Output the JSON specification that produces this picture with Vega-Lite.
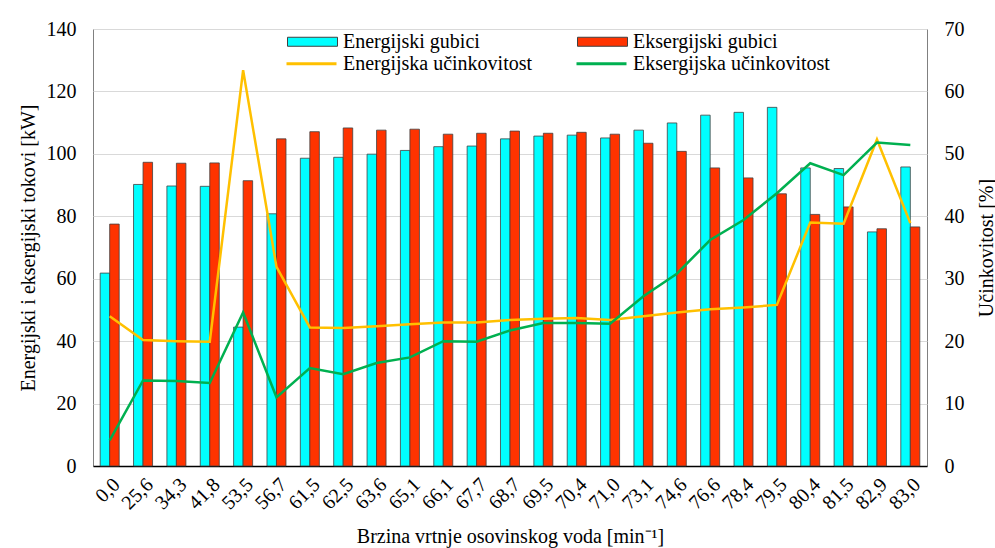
{
  "$schema": "https://vega.github.io/schema/vega-lite/v6.json",
  "width": 834,
  "height": 437,
  "autosize": {"type": "none"},
  "padding": {"left": 93, "top": 29, "right": 68, "bottom": 82},
  "background": "white",
  "config": {
    "font": "Liberation Serif, Times New Roman, serif",
    "view": {"stroke": "#808080", "strokeWidth": 1},
    "axis": {"labelFont": "Liberation Serif, Times New Roman, serif", "titleFont": "Liberation Serif, Times New Roman, serif", "labelFontSize": 20, "titleFontSize": 20, "titleFontWeight": "normal", "labelColor": "#000", "titleColor": "#000"},
    "legend": {"labelFont": "Liberation Serif, Times New Roman, serif", "labelFontSize": 20, "labelColor": "#000", "labelLimit": 400}
  },
  "datasets": {
    "gubici": [
      {"brzina": "0,0", "serija": "Energijski gubici", "kW": 61.8},
      {"brzina": "0,0", "serija": "Eksergijski gubici", "kW": 77.5},
      {"brzina": "25,6", "serija": "Energijski gubici", "kW": 90.2},
      {"brzina": "25,6", "serija": "Eksergijski gubici", "kW": 97.3},
      {"brzina": "34,3", "serija": "Energijski gubici", "kW": 89.7},
      {"brzina": "34,3", "serija": "Eksergijski gubici", "kW": 97.0},
      {"brzina": "41,8", "serija": "Energijski gubici", "kW": 89.6},
      {"brzina": "41,8", "serija": "Eksergijski gubici", "kW": 97.1},
      {"brzina": "53,5", "serija": "Energijski gubici", "kW": 44.5},
      {"brzina": "53,5", "serija": "Eksergijski gubici", "kW": 91.4},
      {"brzina": "56,7", "serija": "Energijski gubici", "kW": 80.8},
      {"brzina": "56,7", "serija": "Eksergijski gubici", "kW": 104.8},
      {"brzina": "61,5", "serija": "Energijski gubici", "kW": 98.6},
      {"brzina": "61,5", "serija": "Eksergijski gubici", "kW": 107.1},
      {"brzina": "62,5", "serija": "Energijski gubici", "kW": 98.9},
      {"brzina": "62,5", "serija": "Eksergijski gubici", "kW": 108.3},
      {"brzina": "63,6", "serija": "Energijski gubici", "kW": 99.9},
      {"brzina": "63,6", "serija": "Eksergijski gubici", "kW": 107.6},
      {"brzina": "65,1", "serija": "Energijski gubici", "kW": 101.1},
      {"brzina": "65,1", "serija": "Eksergijski gubici", "kW": 107.9},
      {"brzina": "66,1", "serija": "Energijski gubici", "kW": 102.3},
      {"brzina": "66,1", "serija": "Eksergijski gubici", "kW": 106.3},
      {"brzina": "67,7", "serija": "Energijski gubici", "kW": 102.5},
      {"brzina": "67,7", "serija": "Eksergijski gubici", "kW": 106.6},
      {"brzina": "68,7", "serija": "Energijski gubici", "kW": 104.8},
      {"brzina": "68,7", "serija": "Eksergijski gubici", "kW": 107.3},
      {"brzina": "69,5", "serija": "Energijski gubici", "kW": 105.7},
      {"brzina": "69,5", "serija": "Eksergijski gubici", "kW": 106.6},
      {"brzina": "70,4", "serija": "Energijski gubici", "kW": 106.0},
      {"brzina": "70,4", "serija": "Eksergijski gubici", "kW": 106.9},
      {"brzina": "71,0", "serija": "Energijski gubici", "kW": 105.1},
      {"brzina": "71,0", "serija": "Eksergijski gubici", "kW": 106.3},
      {"brzina": "73,1", "serija": "Energijski gubici", "kW": 107.6},
      {"brzina": "73,1", "serija": "Eksergijski gubici", "kW": 103.4},
      {"brzina": "74,6", "serija": "Energijski gubici", "kW": 109.9},
      {"brzina": "74,6", "serija": "Eksergijski gubici", "kW": 100.8},
      {"brzina": "76,6", "serija": "Energijski gubici", "kW": 112.4},
      {"brzina": "76,6", "serija": "Eksergijski gubici", "kW": 95.5},
      {"brzina": "78,4", "serija": "Energijski gubici", "kW": 113.3},
      {"brzina": "78,4", "serija": "Eksergijski gubici", "kW": 92.3},
      {"brzina": "79,5", "serija": "Energijski gubici", "kW": 114.9},
      {"brzina": "79,5", "serija": "Eksergijski gubici", "kW": 87.2},
      {"brzina": "80,4", "serija": "Energijski gubici", "kW": 95.5},
      {"brzina": "80,4", "serija": "Eksergijski gubici", "kW": 80.6},
      {"brzina": "81,5", "serija": "Energijski gubici", "kW": 95.3},
      {"brzina": "81,5", "serija": "Eksergijski gubici", "kW": 83.0},
      {"brzina": "82,9", "serija": "Energijski gubici", "kW": 75.0},
      {"brzina": "82,9", "serija": "Eksergijski gubici", "kW": 76.0},
      {"brzina": "83,0", "serija": "Energijski gubici", "kW": 95.8},
      {"brzina": "83,0", "serija": "Eksergijski gubici", "kW": 76.6}
    ],
    "ucinkovitost": [
      {"brzina": "0,0", "serija": "Energijska učinkovitost", "pct": 24.0},
      {"brzina": "25,6", "serija": "Energijska učinkovitost", "pct": 20.2},
      {"brzina": "34,3", "serija": "Energijska učinkovitost", "pct": 20.0},
      {"brzina": "41,8", "serija": "Energijska učinkovitost", "pct": 19.9},
      {"brzina": "53,5", "serija": "Energijska učinkovitost", "pct": 63.4},
      {"brzina": "56,7", "serija": "Energijska učinkovitost", "pct": 31.9},
      {"brzina": "61,5", "serija": "Energijska učinkovitost", "pct": 22.2},
      {"brzina": "62,5", "serija": "Energijska učinkovitost", "pct": 22.1},
      {"brzina": "63,6", "serija": "Energijska učinkovitost", "pct": 22.4},
      {"brzina": "65,1", "serija": "Energijska učinkovitost", "pct": 22.7},
      {"brzina": "66,1", "serija": "Energijska učinkovitost", "pct": 23.0},
      {"brzina": "67,7", "serija": "Energijska učinkovitost", "pct": 23.0},
      {"brzina": "68,7", "serija": "Energijska učinkovitost", "pct": 23.4},
      {"brzina": "69,5", "serija": "Energijska učinkovitost", "pct": 23.6},
      {"brzina": "70,4", "serija": "Energijska učinkovitost", "pct": 23.7},
      {"brzina": "71,0", "serija": "Energijska učinkovitost", "pct": 23.4},
      {"brzina": "73,1", "serija": "Energijska učinkovitost", "pct": 24.0},
      {"brzina": "74,6", "serija": "Energijska učinkovitost", "pct": 24.6},
      {"brzina": "76,6", "serija": "Energijska učinkovitost", "pct": 25.1},
      {"brzina": "78,4", "serija": "Energijska učinkovitost", "pct": 25.4},
      {"brzina": "79,5", "serija": "Energijska učinkovitost", "pct": 25.8},
      {"brzina": "80,4", "serija": "Energijska učinkovitost", "pct": 39.0},
      {"brzina": "81,5", "serija": "Energijska učinkovitost", "pct": 38.8},
      {"brzina": "82,9", "serija": "Energijska učinkovitost", "pct": 52.3},
      {"brzina": "83,0", "serija": "Energijska učinkovitost", "pct": 38.9},
      {"brzina": "0,0", "serija": "Eksergijska učinkovitost", "pct": 4.1},
      {"brzina": "25,6", "serija": "Eksergijska učinkovitost", "pct": 13.7},
      {"brzina": "34,3", "serija": "Eksergijska učinkovitost", "pct": 13.6},
      {"brzina": "41,8", "serija": "Eksergijska učinkovitost", "pct": 13.3},
      {"brzina": "53,5", "serija": "Eksergijska učinkovitost", "pct": 24.6},
      {"brzina": "56,7", "serija": "Eksergijska učinkovitost", "pct": 11.0},
      {"brzina": "61,5", "serija": "Eksergijska učinkovitost", "pct": 15.7},
      {"brzina": "62,5", "serija": "Eksergijska učinkovitost", "pct": 14.7},
      {"brzina": "63,6", "serija": "Eksergijska učinkovitost", "pct": 16.5},
      {"brzina": "65,1", "serija": "Eksergijska učinkovitost", "pct": 17.4},
      {"brzina": "66,1", "serija": "Eksergijska učinkovitost", "pct": 20.0},
      {"brzina": "67,7", "serija": "Eksergijska učinkovitost", "pct": 19.9},
      {"brzina": "68,7", "serija": "Eksergijska učinkovitost", "pct": 21.7},
      {"brzina": "69,5", "serija": "Eksergijska učinkovitost", "pct": 22.9},
      {"brzina": "70,4", "serija": "Eksergijska učinkovitost", "pct": 22.9},
      {"brzina": "71,0", "serija": "Eksergijska učinkovitost", "pct": 22.8},
      {"brzina": "73,1", "serija": "Eksergijska učinkovitost", "pct": 27.2},
      {"brzina": "74,6", "serija": "Eksergijska učinkovitost", "pct": 30.8},
      {"brzina": "76,6", "serija": "Eksergijska učinkovitost", "pct": 36.2},
      {"brzina": "78,4", "serija": "Eksergijska učinkovitost", "pct": 39.4},
      {"brzina": "79,5", "serija": "Eksergijska učinkovitost", "pct": 43.7},
      {"brzina": "80,4", "serija": "Eksergijska učinkovitost", "pct": 48.5},
      {"brzina": "81,5", "serija": "Eksergijska učinkovitost", "pct": 46.6},
      {"brzina": "82,9", "serija": "Eksergijska učinkovitost", "pct": 51.8},
      {"brzina": "83,0", "serija": "Eksergijska učinkovitost", "pct": 51.4}
    ]
  },
  "encoding": {
    "x": {
      "field": "brzina", "type": "nominal", "sort": null,
      "scale": {"paddingInner": 0.43, "paddingOuter": 0.215},
      "axis": {"title": "Brzina vrtnje osovinskog voda [min⁻¹]", "labelAngle": -45, "ticks": false, "domainColor": "#000", "domainWidth": 1.5, "labelPadding": 8, "titlePadding": 14}
    }
  },
  "layer": [
    {
      "data": {"name": "gubici"},
      "mark": {"type": "bar", "stroke": "#404040", "strokeWidth": 0.8},
      "encoding": {
        "xOffset": {"field": "serija", "type": "nominal", "sort": ["Energijski gubici", "Eksergijski gubici"], "scale": {"paddingInner": 0, "paddingOuter": 0}},
        "y": {
          "field": "kW", "type": "quantitative",
          "scale": {"domain": [0, 140], "nice": false},
          "axis": {"title": "Energijski i eksergijski tokovi [kW]", "values": [0, 20, 40, 60, 80, 100, 120, 140], "ticks": false, "domain": false, "grid": true, "gridColor": "#d9d9d9", "labelPadding": 17, "titlePadding": 8}
        },
        "fill": {
          "field": "serija", "type": "nominal",
          "sort": ["Energijski gubici", "Eksergijski gubici"],
          "scale": {"domain": ["Energijski gubici", "Eksergijski gubici"], "range": ["#00FFFF", "#FF3300"]},
          "legend": {"title": null, "orient": "none", "legendX": 194, "legendY": -13, "direction": "horizontal", "columnPadding": 95, "symbolType": "M-1,-0.18H1V0.18H-1Z", "symbolSize": 2500, "symbolStrokeColor": "#404040", "symbolStrokeWidth": 1, "symbolOpacity": 1, "labelOffset": 5}
        }
      }
    },
    {
      "data": {"name": "ucinkovitost"},
      "mark": {"type": "line", "strokeWidth": 2.5},
      "encoding": {
        "y": {
          "field": "pct", "type": "quantitative",
          "scale": {"domain": [0, 70], "nice": false},
          "axis": {"title": "Učinkovitost [%]", "orient": "right", "values": [0, 10, 20, 30, 40, 50, 60, 70], "ticks": false, "domain": false, "grid": false, "labelPadding": 17, "titlePadding": 12, "titleAngle": 270, "titleBaseline": "top"}
        },
        "stroke": {
          "field": "serija", "type": "nominal",
          "sort": ["Energijska učinkovitost", "Eksergijska učinkovitost"],
          "scale": {"domain": ["Energijska učinkovitost", "Eksergijska učinkovitost"], "range": ["#FFC000", "#00B050"]},
          "legend": {"title": null, "orient": "none", "legendX": 192, "legendY": 8, "direction": "horizontal", "columnPadding": 37, "symbolType": "stroke", "symbolSize": 2500, "symbolStrokeWidth": 3, "labelOffset": 5}
        }
      }
    }
  ],
  "resolve": {"scale": {"y": "independent"}}
}
